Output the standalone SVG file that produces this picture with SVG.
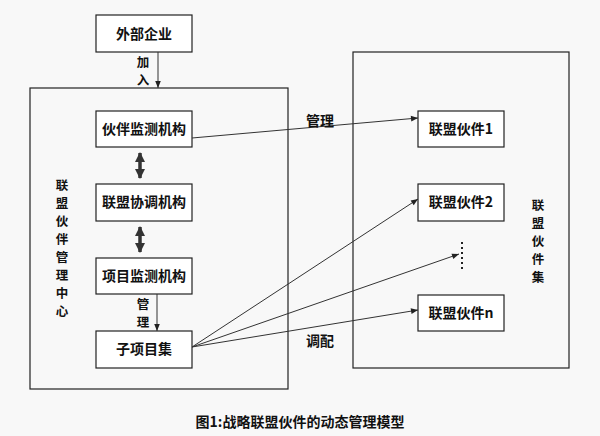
<svg xmlns="http://www.w3.org/2000/svg" width="600" height="436" viewBox="0 0 600 436">
<defs>
<style>
text{font-family:"Noto Sans CJK SC","Liberation Serif",serif;font-weight:bold;font-size:14px;fill:#111;text-anchor:middle}
.v{font-size:12.5px}
.b{fill:#fff;stroke:#222;stroke-width:1.2}
.c{fill:none;stroke:#222;stroke-width:1.2}
.l{stroke:#333;stroke-width:1;fill:none}
</style>
<marker id="a" viewBox="0 0 10 10" refX="10" refY="5" markerWidth="8" markerHeight="7" orient="auto"><path d="M0,1 L10,5 L0,9 z" fill="#222"/></marker>
<marker id="t" viewBox="0 0 10 10" refX="9" refY="5" markerWidth="3" markerHeight="3" orient="auto-start-reverse"><path d="M0,0 L10,5 L0,10 z" fill="#333"/></marker>
</defs>
<rect width="600" height="436" fill="#f8f8f8"/>
<rect class="c" x="30" y="88" width="258" height="301"/>
<rect class="c" x="353" y="52" width="216" height="316"/>
<g id="lc" class="v"><text class="v" x="62" y="190">联</text><text class="v" x="62" y="208">盟</text><text class="v" x="62" y="226">伙</text><text class="v" x="62" y="244">伴</text><text class="v" x="62" y="262">管</text><text class="v" x="62" y="280">理</text><text class="v" x="62" y="298">中</text><text class="v" x="62" y="316">心</text></g>
<g id="rc"><text class="v" x="538" y="210">联</text><text class="v" x="538" y="228">盟</text><text class="v" x="538" y="246">伙</text><text class="v" x="538" y="264">件</text><text class="v" x="538" y="282">集</text></g>
<g id="n0"><rect class="b" x="96" y="15" width="96" height="37"/><text x="144" y="39">外部企业</text></g>
<g id="n1"><rect class="b" x="96" y="111" width="96" height="36"/><text x="144" y="134">伙伴监测机构</text></g>
<g id="n2"><rect class="b" x="96" y="184" width="96" height="37"/><text x="144" y="207">联盟协调机构</text></g>
<g id="n3"><rect class="b" x="96" y="258" width="96" height="36"/><text x="144" y="281">项目监测机构</text></g>
<g id="n4"><rect class="b" x="96" y="331" width="96" height="37"/><text x="144" y="354">子项目集</text></g>
<g id="p1"><rect class="b" x="418" y="111" width="86" height="36"/><text x="461" y="134">联盟伙件1</text></g>
<g id="p2"><rect class="b" x="418" y="184" width="86" height="37"/><text x="461" y="207">联盟伙件2</text></g>
<g id="p3"><line x1="462" y1="242" x2="462" y2="270" stroke="#222" stroke-width="2" stroke-dasharray="2,3"/></g>
<g id="pn"><rect class="b" x="418" y="295" width="86" height="36"/><text x="461" y="318">联盟伙件n</text></g>
<g id="edges">
<line class="l" x1="158" y1="52" x2="158" y2="88" marker-end="url(#a)"/>
<line x1="140" y1="153" x2="140" y2="178" stroke="#333" stroke-width="3.5" marker-start="url(#t)" marker-end="url(#t)"/>
<line x1="140" y1="227" x2="140" y2="252" stroke="#333" stroke-width="3.5" marker-start="url(#t)" marker-end="url(#t)"/>
<line class="l" x1="157" y1="294" x2="157" y2="331" marker-end="url(#a)"/>
<line class="l" x1="192" y1="138" x2="418" y2="118" marker-end="url(#a)"/>
<line class="l" x1="192" y1="347" x2="418" y2="199" marker-end="url(#a)"/>
<line class="l" x1="192" y1="347" x2="459" y2="254" marker-end="url(#a)"/>
<line class="l" x1="192" y1="347" x2="418" y2="310" marker-end="url(#a)"/>
</g>
<text class="v" x="143" y="67">加</text><text class="v" x="143" y="85">入</text>
<text class="v" x="143" y="309">管</text><text class="v" x="143" y="327">理</text>
<text x="320" y="126">管理</text>
<text x="320" y="346">调配</text>
<text x="300" y="427">图1:战略联盟伙件的动态管理模型</text>
</svg>
